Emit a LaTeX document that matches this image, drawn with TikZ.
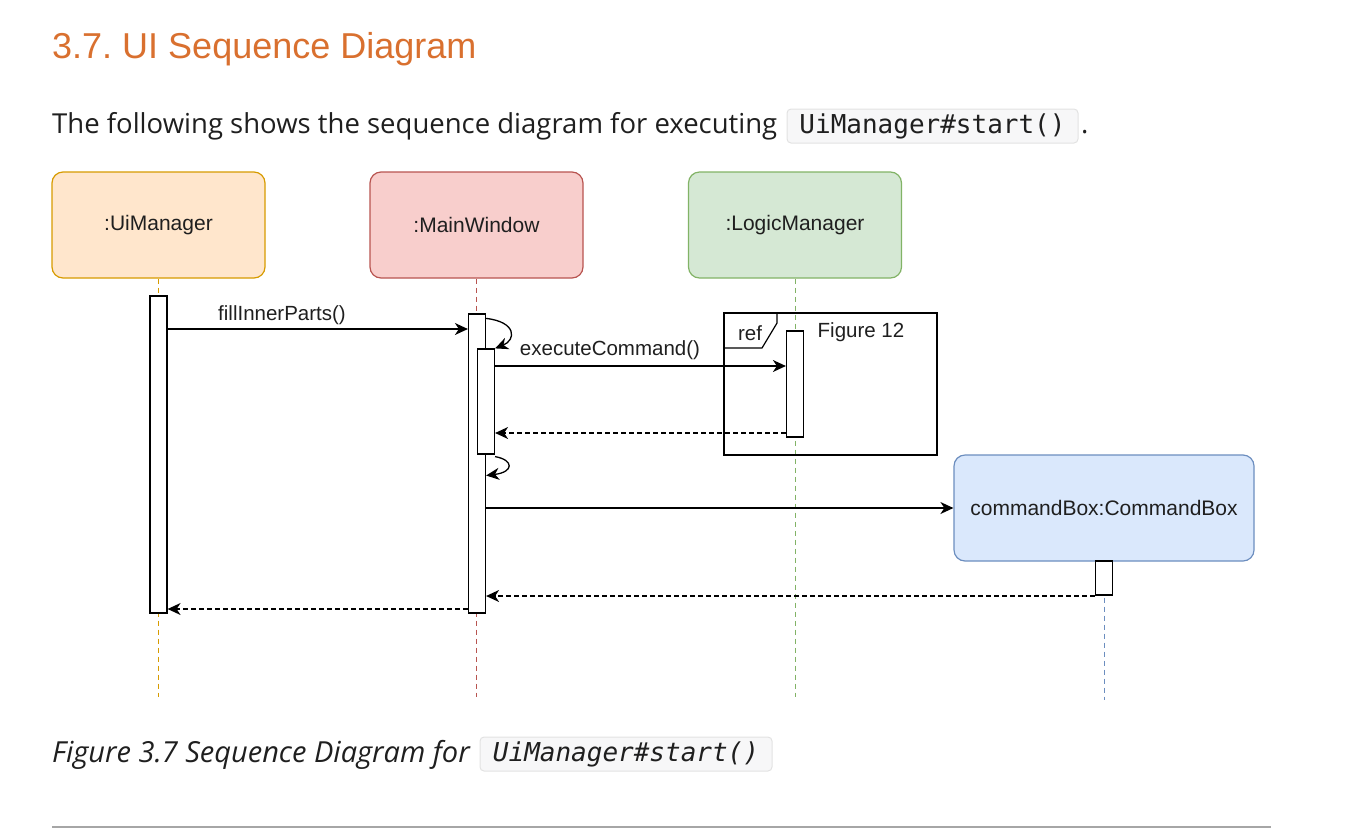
\documentclass[tikz,border=0pt]{standalone}
\usepackage{fontspec}
\setmainfont{Liberation Sans}
\setmonofont{DejaVu Sans Mono}
\newfontfamily\bodyfont{Open Sans}
\usetikzlibrary{arrows.meta,calc}
\definecolor{headc}{HTML}{D9702F}
\definecolor{uifill}{HTML}{FFE6CC}\definecolor{uidraw}{HTML}{D79B00}
\definecolor{mwfill}{HTML}{F8CECC}\definecolor{mwdraw}{HTML}{B85450}
\definecolor{lmfill}{HTML}{D5E8D4}\definecolor{lmdraw}{HTML}{82B366}
\definecolor{cbfill}{HTML}{DAE8FC}\definecolor{cbdraw}{HTML}{6C8EBF}
\definecolor{codefill}{HTML}{F7F7F8}\definecolor{codedraw}{HTML}{E2E2E2}
\definecolor{txt}{HTML}{1F1F1F}
\frenchspacing
\begin{document}
\begin{tikzpicture}[x=1pt,y=-1pt,
  head/.style={rectangle, rounded corners=11pt, minimum width=213pt, minimum height=106pt, line width=1.2pt, font=\fontsize{21}{24}\selectfont, text=txt, inner sep=0pt},
  bar/.style={rectangle, draw=black, fill=white, line width=1.2pt, minimum width=17pt, inner sep=0pt},
  life/.style={dash pattern=on 5pt off 4pt, line width=1pt},
  msg/.style={-{Stealth[length=13pt,width=12pt,inset=4pt]}, line width=1.3pt},
  ret/.style={-{Stealth[length=13pt,width=12pt,inset=4pt]}, line width=1.4pt, dash pattern=on 5pt off 3pt},
  lbl/.style={font=\fontsize{20.5}{24}\selectfont, text=txt, inner sep=0pt},
  codebox/.style={rectangle, rounded corners=4pt, fill=codefill, draw=codedraw, line width=1pt, minimum height=34pt, inner sep=0pt}
]
\useasboundingbox (0,0) rectangle (1354,828);

% text
\node[anchor=base west, text=headc, inner sep=0pt, font=\fontsize{36}{40}\selectfont] (title) at (52,58) {3.7. UI Sequence Diagram};
\node[anchor=base west, text=txt, inner sep=0pt, font=\bodyfont\fontsize{27.5}{32}\selectfont] (intro) at (52,133) {The following shows the sequence diagram for executing};
\node[codebox, minimum width=291pt] (code1) at (932.5,126) {};
\node[text=txt, inner sep=0pt, font=\ttfamily\fontsize{26}{30}\selectfont] (code1t) at (932.5,126) {UiManager\#start()};
\node[anchor=base west, text=txt, inner sep=0pt, font=\bodyfont\fontsize{27.5}{32}\selectfont] (dot) at (1081,133) {.};

\node[anchor=base west, text=txt, inner sep=0pt, font=\bodyfont\itshape\fontsize{29}{32}\selectfont] (cap) at (52,762) {Figure 3.7 Sequence Diagram for};
\node[codebox, minimum width=292pt] (code2) at (626,754) {};
\node[text=txt, inner sep=0pt, font=\ttfamily\itshape\fontsize{26}{30}\selectfont] (code2t) at (626,754) {UiManager\#start()};
\coordinate (ruleA) at (52,827);
\coordinate (ruleB) at (1271,827);
\draw[color=black!35, line width=1.2pt] (ruleA) -- (ruleB);

% heads
\node[head, fill=uifill, draw=uidraw] (ui) at (158.5,225) {:UiManager};
\node[head, fill=mwfill, draw=mwdraw] (mw) at (476.5,225) {:MainWindow};
\node[head, fill=lmfill, draw=lmdraw] (lm) at (795,225) {:LogicManager};
\node[head, fill=cbfill, draw=cbdraw, minimum width=300pt] (cb) at (1104,508) {commandBox:CommandBox};

% lifelines
\coordinate (endy) at (0,697);
\coordinate (endy2) at (0,700);
\draw[life, uidraw] (ui.south) -- (ui.south |- endy);
\draw[life, mwdraw] (mw.south) -- (mw.south |- endy);
\draw[life, lmdraw] (lm.south) -- (lm.south |- endy);
\draw[life, cbdraw] (cb.south) -- (cb.south |- endy2);

% ref frame
\node[rectangle, draw=black, line width=1.2pt, minimum width=213pt, minimum height=142pt, inner sep=0pt] (ref) at (830.5,384) {};
\coordinate (tabA) at (777,323);
\coordinate (tabB) at (762,348);
\draw[line width=1.2pt] (ref.north west -| tabA) -- (tabA) -- (tabB) -- (ref.west |- tabB);
\node[lbl] (reft) at (750,333) {ref};
\node[lbl] (fig12) at (861,332) {Figure 12};

% activation bars
\node[bar, minimum height=317pt] (uiBar) at (158.5,454.5) {};
\node[bar, minimum height=299pt] (mwBar) at (477,463.5) {};
\node[bar, minimum height=105pt] (mwBar2) at (486,401.5) {};
\node[bar, minimum height=106pt] (lmBar) at (795,384) {};
\node[bar, minimum height=34pt] (cbBar) at (1104,578) {};

% messages
\coordinate (y1) at (0,329);
\coordinate (y2) at (0,366);
\coordinate (y3) at (0,433);
\coordinate (y4) at (0,508);
\coordinate (y5) at (0,596);
\coordinate (y6) at (0,609);
\draw[msg] (uiBar.east |- y1) -- (mwBar.west |- y1);
\node[lbl] (l1) at (282,315) {fillInnerParts()};
\draw[msg] ($(mwBar.north east)+(0,5)$) .. controls (517,322) and (516,340) .. (mwBar2.north east);
\draw[msg] (mwBar2.east |- y2) -- (lmBar.west |- y2);
\node[lbl] (l2) at (610,350) {executeCommand()};
\draw[ret] (lmBar.west |- y3) -- (mwBar2.east |- y3);
\draw[msg] ($(mwBar2.south east)+(0,2)$) .. controls (514,460) and (514,472) .. ($(mwBar.east)+(0,12)$);
\draw[msg] (mwBar.east |- y4) -- (cb.west |- y4);
\draw[ret] (cbBar.west |- y5) -- (mwBar.east |- y5);
\draw[ret] (mwBar.west |- y6) -- (uiBar.east |- y6);
\end{tikzpicture}
\end{document}
